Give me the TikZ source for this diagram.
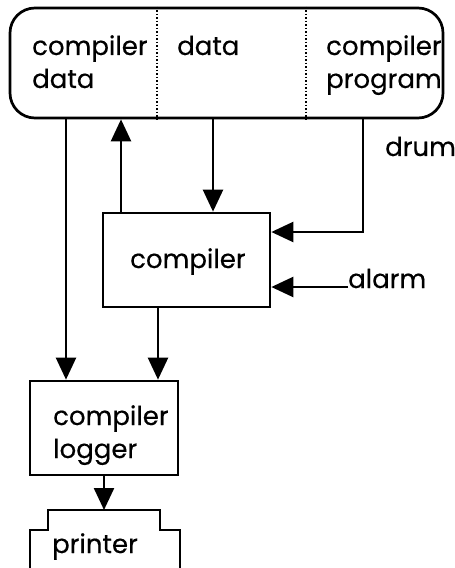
\documentclass[tikz,border=0pt]{standalone}
\usepackage{fontspec}
\setmainfont{Poppins}[FakeBold=0.35]
\usetikzlibrary{arrows.meta,calc}
\tikzset{
  box/.style={draw, line width=2.7bp, inner sep=0pt},
  lbl/.style={anchor=base west, inner sep=0pt, align=left,
    font=\fontsize{26bp}{33bp}\selectfont},
  arr/.style={line width=2.4bp, -{Triangle[length=22bp,width=20bp]}},
  divider/.style={line width=1.8bp, dash pattern=on 1.5bp off 2bp}
}
\begin{document}
\begin{tikzpicture}[x=1bp, y=-1bp]
\useasboundingbox (0,0) rectangle (455,568);
% drum store and its three sections
\node[box, rounded corners=25bp, minimum width=433bp, minimum height=110bp] (store) at (226.5,63) {};
\coordinate (d1) at (157,0);
\coordinate (d2) at (306,0);
\draw[divider] (store.north -| d1) -- (store.south -| d1);
\draw[divider] (store.north -| d2) -- (store.south -| d2);
% multi-line labels sit on the baseline of their last line
\node[lbl] (cdata) at (32,88) {compiler\\data};
\node[lbl] (data) at (177,55) {data};
\node[lbl] (cprog) at (326,88) {compiler\\program};
% processes
\node[box, minimum width=167bp, minimum height=94bp] (comp) at (186.5,260) {};
\node[lbl] (comptext) at (130,268) {compiler};
\node[box, minimum width=148bp, minimum height=94bp] (logger) at (104,428) {};
\node[lbl] (logtext) at (53,458) {compiler\\logger};
% printer outline
\draw[line width=2.7bp] (30,570) -- (30,530) -- (48,530) -- (48,510) -- (160,510) -- (160,530) -- (180,530) -- (180,570);
\coordinate (ptop) at (104,510);
\node[lbl] (printer) at (52,553) {printer};
% external labels
\node[lbl] (drum) at (385,156) {drum};
\node[lbl] (alarm) at (348,288) {alarm};
% columns and rows of the connectors
\coordinate (xa) at (66,0);
\coordinate (xb) at (121,0);
\coordinate (xc) at (213,0);
\coordinate (xd) at (363,0);
\coordinate (xe) at (158,0);
\coordinate (ydrum) at (0,232);
\coordinate (yalarm) at (0,287);
% connectors
\draw[arr] (store.south -| xa) -- (logger.north -| xa);
\draw[arr] (comp.north -| xb) -- (store.south -| xb);
\draw[arr] (store.south -| xc) -- (comp.north -| xc);
\draw[arr] (store.south -| xd) |- (comp.east |- ydrum);
\draw[arr] (alarm.west |- yalarm) -- (comp.east |- yalarm);
\draw[arr] (comp.south -| xe) -- (logger.north -| xe);
\draw[arr] (logger.south) -- (ptop);
\end{tikzpicture}
\end{document}
